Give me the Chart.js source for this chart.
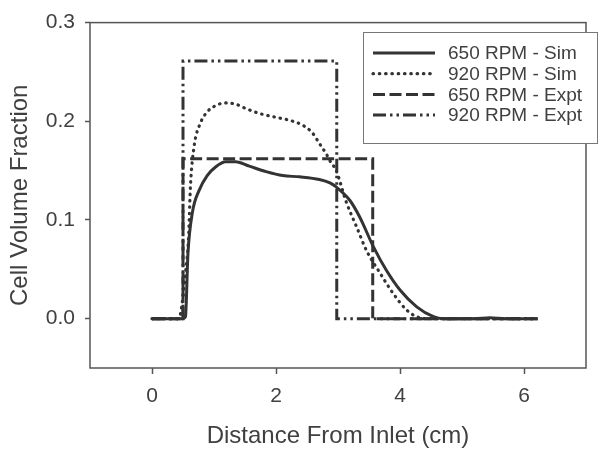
<!DOCTYPE html>
<html>
<head>
<meta charset="utf-8">
<script src="https://cdn.jsdelivr.net/npm/chart.js@4.4.0/dist/chart.umd.min.js"></script>
<style>
  html, body { margin: 0; padding: 0; background: #fff; }
  #wrap { width: 600px; height: 453px; }
</style>
</head>
<body>
<div id="wrap"><canvas id="chartCanvas" width="600" height="453"></canvas></div>
<script>
// data (distance in cm, cell volume fraction)
var sim650X = [0, 0.5, 0.54, 0.58, 0.65, 0.76, 0.89, 1.03, 1.19, 1.35, 1.57, 1.84, 2.11, 2.38, 2.70, 2.87, 2.97, 3.19, 3.35, 3.57, 3.78, 4.0, 4.27, 4.54, 4.7, 5.2, 5.45, 5.7, 6.22];
var sim650Y = [0, 0, 0.002, 0.066, 0.107, 0.130, 0.145, 0.154, 0.159, 0.159, 0.1545, 0.149, 0.145, 0.1437, 0.141, 0.1376, 0.1335, 0.120, 0.103, 0.073, 0.049, 0.029, 0.012, 0.002, 0, 0, 0.001, 0, 0];

var sim920X = [0, 0.42, 0.46, 0.54, 0.59, 0.62, 0.68, 0.78, 0.89, 1.03, 1.19, 1.35, 1.51, 1.73, 2.0, 2.22, 2.43, 2.59, 2.70, 2.81, 2.87, 2.97, 3.14, 3.30, 3.46, 3.68, 3.89, 4.11, 4.27, 4.43, 6.22];
var sim920Y = [0, 0, 0.005, 0.046, 0.083, 0.134, 0.175, 0.198, 0.2095, 0.216, 0.2186, 0.2173, 0.213, 0.208, 0.204, 0.201, 0.196, 0.188, 0.1775, 0.167, 0.160, 0.150, 0.117, 0.093, 0.069, 0.046, 0.0255, 0.0086, 0.002, 0, 0];

var expt650X = [0, 0.5, 0.5, 3.56, 3.56, 6.22];
var expt650Y = [0, 0, 0.162, 0.162, 0, 0];

var expt920X = [0, 0.5, 0.5, 2.98, 2.98, 6.22];
var expt920Y = [0, 0, 0.261, 0.261, 0, 0];

var seriesLabels = ['650 RPM - Sim', '920 RPM - Sim', '650 RPM - Expt', '920 RPM - Expt'];
var xTicks = [0, 2, 4, 6];
var yTicks = [0, 0.1, 0.2, 0.3];

var ink = '#333333';
var textInk = '#404040';
var font = '"Liberation Sans", Arial, sans-serif';

function toPoints(xs, ys) {
    return xs.map(function(x, i) { return {x: x, y: ys[i]}; });
}

// frame round the plot area + the legend box
var framePlugin = {
    id: 'frame',
    beforeDatasetsDraw: function(chart) {
        var a = chart.chartArea;
        var c = chart.ctx;
        c.save();
        c.strokeStyle = '#555';
        c.lineWidth = 1.5;
        c.strokeRect(a.left, a.top, a.right - a.left, a.bottom - a.top);
        c.restore();
    },
    afterDraw: function(chart) {
        var c = chart.ctx;
        var box = {x: 363, y: 32, w: 234, h: 111};
        c.save();
        c.fillStyle = '#fff';
        c.fillRect(box.x, box.y, box.w, box.h);
        c.strokeStyle = '#777';
        c.lineWidth = 1;
        c.strokeRect(box.x + 0.5, box.y + 0.5, box.w, box.h);
        c.font = '19px ' + font;
        c.textBaseline = 'middle';
        chart.data.datasets.forEach(function(ds, i) {
            var yy = 53 + i * 20.7;
            c.strokeStyle = ds.borderColor;
            c.lineWidth = ds.borderWidth;
            c.lineCap = ds.borderCapStyle || 'butt';
            c.setLineDash(ds.borderDash || []);
            c.beginPath();
            c.moveTo(373, yy);
            c.lineTo(435, yy);
            c.stroke();
            c.setLineDash([]);
            c.fillStyle = textInk;
            c.fillText(ds.label, 448, yy + 1);
        });
        c.restore();
    }
};

var ctx = document.getElementById('chartCanvas');

var myChart = new Chart(ctx, {
    type: 'line',
    data: {
        datasets: [{
            label: seriesLabels[0],
            data: toPoints(sim650X, sim650Y),
            borderColor: ink,
            borderWidth: 3,
            pointRadius: 0,
            cubicInterpolationMode: 'monotone'
        },
        {
            label: seriesLabels[1],
            data: toPoints(sim920X, sim920Y),
            borderColor: ink,
            borderWidth: 3.2,
            borderDash: [0.5, 5.8],
            borderCapStyle: 'round',
            pointRadius: 0,
            cubicInterpolationMode: 'monotone'
        },
        {
            label: seriesLabels[2],
            data: toPoints(expt650X, expt650Y),
            borderColor: ink,
            borderWidth: 3,
            borderDash: [12, 4.5],
            pointRadius: 0,
            tension: 0
        },
        {
            label: seriesLabels[3],
            data: toPoints(expt920X, expt920Y),
            borderColor: ink,
            borderWidth: 3,
            borderDash: [13, 4, 2.5, 4, 2.5, 4],
            pointRadius: 0,
            tension: 0
        }]
    },
    options: {
        responsive: false,
        animation: false,
        layout: { padding: { top: 22, right: 14, left: 0, bottom: 0 } },
        scales: {
            x: {
                type: 'linear',
                min: -1,
                max: 7,
                afterFit: function(scale) { scale.height = 85; },
                afterBuildTicks: function(scale) {
                    scale.ticks = xTicks.map(function(v) { return {value: v}; });
                },
                grid: { display: true, drawOnChartArea: false, tickLength: 6, tickColor: '#555', tickWidth: 1.5 },
                border: { display: false },
                ticks: { color: textInk, font: { size: 21, family: font }, padding: 10, maxRotation: 0 },
                title: { display: true, text: 'Distance From Inlet (cm)', color: textInk, font: { size: 24, family: font }, padding: { top: 0, bottom: 2 } }
            },
            y: {
                type: 'linear',
                min: -0.05,
                max: 0.3,
                afterFit: function(scale) { scale.width = 90; },
                afterBuildTicks: function(scale) {
                    scale.ticks = yTicks.map(function(v) { return {value: v}; });
                },
                grid: { display: true, drawOnChartArea: false, tickLength: 5, tickColor: '#555', tickWidth: 1.5 },
                border: { display: false },
                ticks: {
                    color: textInk,
                    font: { size: 21, family: font },
                    padding: 10,
                    callback: function(v) { return v.toFixed(1); }
                },
                title: { display: true, text: 'Cell Volume Fraction', color: textInk, font: { size: 24, family: font }, padding: { top: 6, bottom: 0 } }
            }
        },
        plugins: {
            legend: { display: false },
            tooltip: { enabled: false }
        }
    },
    plugins: [framePlugin]
});
</script>
</body>
</html>
